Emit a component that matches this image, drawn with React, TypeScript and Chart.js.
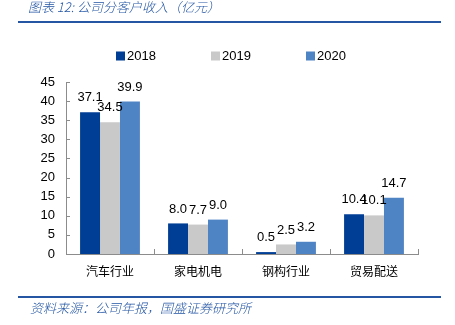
import React, { useEffect, useRef } from "react";
import { Chart, registerables } from "chart.js";

Chart.register(...registerables);

const categories = ["汽车行业", "家电机电", "钢构行业", "贸易配送"];
const seriesNames = ["2018", "2019", "2020"];
const values2018 = [37.1, 8.0, 0.5, 10.4];
const values2019 = [34.5, 7.7, 2.5, 10.1];
const values2020 = [39.9, 9.0, 3.2, 14.7];
const seriesColors = ["#003D94", "#C9C9C9", "#4F84C4"];
const yTicks = [0, 5, 10, 15, 20, 25, 30, 35, 40, 45];

const TITLE = "图表 12: 公司分客户收入（亿元）";
const SOURCE = "资料来源：公司年报，国盛证券研究所";
const BLUE = "#2456A4";

const labelPlugin = {
  id: "valueLabels",
  afterDatasetsDraw(chart: any) {
    const ctx = chart.ctx;
    ctx.save();
    ctx.font = "13px 'Liberation Sans', Arial, sans-serif";
    ctx.fillStyle = "#000";
    ctx.textAlign = "center";
    ctx.textBaseline = "bottom";
    chart.data.datasets.forEach((ds: any, di: number) => {
      const meta = chart.getDatasetMeta(di);
      meta.data.forEach((el: any, i: number) => {
        ctx.fillText(Number(ds.data[i]).toFixed(1), el.x, el.y - 8);
      });
    });
    ctx.restore();
  },
};

const tickPlugin = {
  id: "innerTicks",
  afterDraw(chart: any) {
    const ctx = chart.ctx;
    const ys = chart.scales.y;
    const area = chart.chartArea;
    ctx.save();
    ctx.strokeStyle = "#8C8C8C";
    ctx.lineWidth = 1;
    ctx.beginPath();
    yTicks.forEach((v) => {
      const y = Math.round(ys.getPixelForValue(v)) + 0.5;
      ctx.moveTo(area.left, y);
      ctx.lineTo(area.left + 4, y);
    });
    const n = categories.length;
    for (let i = 1; i <= n; i++) {
      const x = Math.round(area.left + ((area.right - area.left) * i) / n) + 0.5;
      ctx.moveTo(x, area.bottom);
      ctx.lineTo(x, area.bottom - 5);
    }
    ctx.stroke();
    ctx.restore();
  },
};

const legendPlugin = {
  id: "customLegend",
  afterDraw(chart: any) {
    const ctx = chart.ctx;
    ctx.save();
    ctx.font = "13px 'Liberation Sans', Arial, sans-serif";
    ctx.textBaseline = "middle";
    ctx.textAlign = "left";
    const startX = 116;
    const step = 95;
    const cy = 56;
    chart.data.datasets.forEach((ds: any, i: number) => {
      const x = startX + i * step;
      ctx.fillStyle = ds.backgroundColor;
      ctx.fillRect(x, cy - 4.5, 9, 9);
      ctx.fillStyle = "#000";
      ctx.fillText(ds.label, x + 11, cy + 0.5);
    });
    ctx.restore();
  },
};

export default function App() {
  const ref = useRef<HTMLCanvasElement>(null);
  useEffect(() => {
    const seriesValues = [values2018, values2019, values2020];
    const chart = new Chart(ref.current as HTMLCanvasElement, {
      type: "bar",
      data: {
        labels: categories,
        datasets: seriesNames.map((name, i) => ({
          label: name,
          data: seriesValues[i],
          backgroundColor: seriesColors[i],
          borderWidth: 0,
          categoryPercentage: 0.68,
          barPercentage: 1,
        })),
      },
      options: {
        animation: false,
        responsive: false,
        maintainAspectRatio: false,
        layout: { padding: { left: 0, right: 37, top: 82, bottom: 0 } },
        plugins: {
          legend: { display: false },
          tooltip: { enabled: false },
          title: { display: false },
        },
        scales: {
          x: {
            grid: { display: false, drawTicks: false },
            border: { display: true, color: "#8C8C8C", width: 1 },
            ticks: {
              color: "#000",
              padding: 10,
              font: { family: "'Noto Sans CJK SC', sans-serif", size: 12 },
            },
            afterFit(scale: any) {
              scale.height = 71;
            },
          },
          y: {
            min: 0,
            max: 45,
            grid: { display: false, drawTicks: false },
            border: { display: true, color: "#8C8C8C", width: 1 },
            ticks: {
              stepSize: 5,
              color: "#000",
              padding: 11,
              font: { family: "'Liberation Sans', Arial, sans-serif", size: 13 },
            },
            afterFit(scale: any) {
              scale.width = 66;
            },
          },
        },
      },
      plugins: [labelPlugin, tickPlugin, legendPlugin],
    });
    return () => chart.destroy();
  }, []);

  const textStyle: React.CSSProperties = {
    position: "absolute",
    fontFamily: "'Noto Sans CJK SC', sans-serif",
    fontStyle: "italic",
    fontWeight: 300,
    color: BLUE,
    whiteSpace: "pre",
    lineHeight: "1",
  };

  return (
    <div
      style={{
        position: "fixed",
        left: 0,
        top: 0,
        width: 455,
        height: 325,
        background: "#fff",
        overflow: "hidden",
      }}
    >
      <canvas ref={ref} width={455} height={325} style={{ position: "absolute", left: 0, top: 0 }} />
      <div style={{ ...textStyle, left: 28, top: 0, fontSize: 13 }}>{TITLE}</div>
      <div style={{ position: "absolute", left: 18, top: 21, width: 423, height: 2, background: BLUE }} />
      <div style={{ position: "absolute", left: 18, top: 296, width: 423, height: 2, background: BLUE }} />
      <div style={{ ...textStyle, left: 30, top: 301, fontSize: 13 }}>{SOURCE}</div>
    </div>
  );
}
